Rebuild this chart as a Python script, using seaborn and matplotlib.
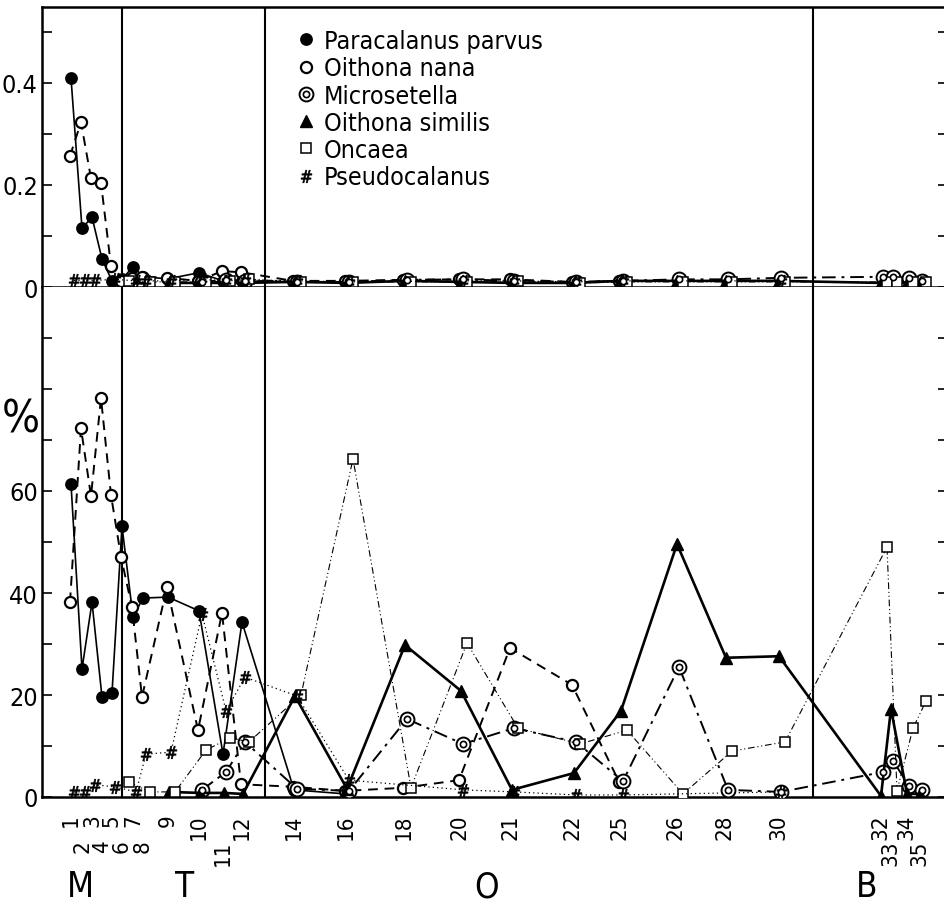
import seaborn as sns
import matplotlib.pyplot as plt
from matplotlib.lines import Line2D
from matplotlib.transforms import ScaledTranslation, blended_transform_factory

sns.set_style('white')
plt.rcParams['font.family'] = ['DejaVu Sans']
plt.rcParams['font.stretch'] = 'condensed'
plt.rcParams['text.color'] = 'black'
plt.rcParams['xtick.color'] = 'black'
plt.rcParams['ytick.color'] = 'black'

#% ===============================
# stations along the transect (position in relative distance units)
stations = [1, 2, 3, 4, 5, 6, 7, 8, 9, 10, 11, 12, 14, 16, 18, 20, 21, 22, 25, 26, 28, 30, 32, 33, 34, 35]
station_pos = [29, 40, 50, 60, 70, 80, 91, 101, 126, 157, 181, 200, 252, 304, 362, 418, 469, 531,
               578, 634, 683, 736, 838, 848, 864, 877]
second_row = [2, 4, 6, 8, 11, 33, 35]
region_names = ['M', 'T', 'O', 'B']
region_pos = [38, 143, 445, 825]
region_bounds = [80, 223, 771]

# lower panel: share of total copepods, %
para_st = [1, 2, 3, 4, 5, 6, 7, 8, 9, 10, 11, 12, 14, 16]
para_pct = [61.4, 25.1, 38.2, 19.6, 20.4, 53.1, 35.3, 39.0, 39.2, 36.5, 8.4, 34.3, 1.4, 0.6]
nana_st = [1, 2, 3, 4, 5, 6, 7, 8, 9, 10, 11, 12, 14, 16, 18, 20, 21, 22, 25]
nana_pct = [38.2, 72.3, 59.0, 78.2, 59.2, 47.1, 37.2, 19.6, 41.2, 13.1, 36.1, 2.5, 2.0, 1.2, 1.8,
            3.3, 29.2, 22.0, 3.0]
micro_st = [10, 11, 12, 14, 16, 18, 20, 21, 22, 25, 26, 28, 30, 32, 33, 34, 35]
micro_pct = [1.4, 4.9, 10.8, 1.6, 1.2, 15.3, 10.4, 13.5, 10.8, 3.1, 25.5, 1.4, 1.0, 4.9, 7.1, 2.2, 1.4]
sim_st = [9, 10, 11, 12, 14, 16, 18, 20, 21, 22, 25, 26, 28, 30, 32, 33, 34, 35]
sim_pct = [1.0, 0.8, 0.8, 0.6, 19.8, 1.6, 29.8, 20.8, 1.4, 4.7, 16.9, 49.6, 27.3, 27.6, 0.2, 17.3, 0.6, 0.6]
onc_st = [6, 8, 9, 10, 11, 12, 14, 16, 18, 20, 21, 22, 25, 26, 28, 30, 32, 33, 34, 35]
onc_pct = [2.9, 1.0, 1.0, 9.2, 11.6, 10.8, 20.0, 66.3, 1.8, 30.2, 13.5, 10.4, 13.1, 0.6, 9.0, 10.8,
           49.0, 1.2, 13.5, 18.8]
pse_st = [1, 2, 3, 5, 7, 8, 9, 10, 11, 12, 14, 16, 20, 21, 22, 25, 30]
pse_pct = [1.0, 1.0, 2.4, 2.0, 1.0, 8.4, 8.8, 35.9, 16.9, 23.5, 19.8, 3.3, 1.4, 1.0, 0.4, 0.4, 1.0]

# upper panel: abundance
para_top_st = [1, 2, 3, 4, 5, 6, 7, 8, 9, 10, 11, 12, 14, 16]
para_top = [0.41, 0.115, 0.137, 0.055, 0.012, 0.015, 0.04, 0.02, 0.016, 0.028, 0.012, 0.012, 0.01, 0.01]
nana_top_st = [1, 2, 3, 4, 5, 6, 7, 8, 9, 10, 11, 12, 14, 16, 18, 20, 21, 22, 25]
nana_top = [0.257, 0.323, 0.213, 0.204, 0.041, 0.012, 0.018, 0.02, 0.018, 0.012, 0.031, 0.029, 0.012,
            0.012, 0.014, 0.015, 0.015, 0.01, 0.012]
micro_top_st = [10, 11, 12, 14, 16, 18, 20, 21, 22, 25, 26, 28, 30, 32, 33, 34, 35]
micro_top = [0.01, 0.014, 0.012, 0.01, 0.01, 0.014, 0.015, 0.012, 0.01, 0.012, 0.015, 0.015, 0.018,
             0.02, 0.02, 0.018, 0.012]
sim_top_st = [9, 10, 11, 12, 14, 16, 18, 20, 21, 22, 25, 26, 28, 30, 32, 33, 34, 35]
sim_top = [0.008, 0.008, 0.008, 0.008, 0.01, 0.008, 0.012, 0.01, 0.008, 0.008, 0.012, 0.012, 0.012,
           0.012, 0.008, 0.01, 0.008, 0.008]
onc_top_st = [6, 8, 9, 10, 11, 12, 14, 16, 18, 20, 21, 22, 25, 26, 28, 30, 32, 33, 34, 35]
onc_top = [0.012, 0.01, 0.01, 0.01, 0.012, 0.015, 0.01, 0.01, 0.01, 0.01, 0.012, 0.008, 0.01, 0.01,
           0.01, 0.01, 0.01, 0.01, 0.01, 0.01]
pse_top_st = [1, 2, 3, 5, 7, 8, 9, 10, 11, 12, 14, 16, 20, 21, 22, 25, 30]
pse_top = [0.013, 0.013, 0.013, 0.015, 0.012, 0.012, 0.012, 0.015, 0.012, 0.014, 0.012, 0.01, 0.012,
           0.012, 0.01, 0.012, 0.012]

names = ['Paracalanus parvus', 'Oithona nana', 'Microsetella', 'Oithona similis', 'Oncaea',
         'Pseudocalanus']

#% ===============================
pos = dict(zip(stations, station_pos))
W, H = 945, 903

styles = {
    'Paracalanus parvus': dict(dodge=0, linestyle='-', lw=1.2, marker='o', ms=8, mfc='black', mew=1.2),
    'Oithona nana': dict(dodge=-1, linestyle=(0, (5, 3.5)), lw=1.4, marker='o', ms=8, mfc='white', mew=1.6),
    'Microsetella': dict(dodge=3, linestyle=(0, (7, 3, 1.5, 3)), lw=1.4, marker='o', ms=10, mfc='white', mew=1.4),
    'Oithona similis': dict(dodge=1, linestyle='-', lw=1.9, marker='^', ms=8.5, mfc='black', mew=1),
    'Oncaea': dict(dodge=7, linestyle=(0, (6, 2.5, 1, 2.5, 1, 2.5)), lw=0.8, marker='s', ms=6.5, mfc='white', mew=1.1),
    'Pseudocalanus': dict(dodge=3, linestyle=(0, (1, 2.5)), lw=0.9, marker='$\\#$', ms=9, mfc='black', mew=0.5),
}


def draw(ax, name, st, vals):
    s = styles[name]
    xs = [pos[k] + s['dodge'] for k in st]
    sns.lineplot(x=xs, y=vals, ax=ax, sort=False, estimator=None, errorbar=None, color='black',
                 linestyle=s['linestyle'], lw=s['lw'], marker=s['marker'], markersize=s['ms'],
                 markerfacecolor=s['mfc'], markeredgecolor='black', markeredgewidth=s['mew'], zorder=3)
    if name == 'Microsetella':
        sns.lineplot(x=xs, y=vals, ax=ax, sort=False, estimator=None, errorbar=None, color='black',
                     linestyle='none', marker='o', markersize=4.5, markerfacecolor='white',
                     markeredgecolor='black', markeredgewidth=1.2, zorder=4)


fig = plt.figure(figsize=(W / 100, H / 100), dpi=100)
ax_top = fig.add_axes([42 / W, (H - 288) / H, 906 / W, 280 / H])
ax_bot = fig.add_axes([42 / W, (H - 798) / H, 906 / W, 510 / H])

top_data = [(para_top_st, para_top), (nana_top_st, nana_top), (micro_top_st, micro_top),
            (sim_top_st, sim_top), (onc_top_st, onc_top), (pse_top_st, pse_top)]
bot_data = [(para_st, para_pct), (nana_st, nana_pct), (micro_st, micro_pct),
            (sim_st, sim_pct), (onc_st, onc_pct), (pse_st, pse_pct)]
for name, (st, v) in zip(names, top_data):
    draw(ax_top, name, st, v)
for name, (st, v) in zip(names, bot_data):
    draw(ax_bot, name, st, v)

for ax in (ax_top, ax_bot):
    ax.set_xlim(0, 906)
    ax.set_xlabel('')
    ax.set_ylabel('')
    ax.spines['right'].set_visible(False)
    for b in region_bounds:
        ax.axvline(b, color='black', lw=1.5, zorder=2)
    ax.tick_params(axis='y', which='both', direction='in', length=7, width=1.2, left=True, right=True,
                   labelsize=18, pad=3)
    for sp in ('left', 'top', 'bottom'):
        ax.spines[sp].set_linewidth(1.8)
        ax.spines[sp].set_color('black')

ax_top.set_ylim(0, 0.549)
ax_top.set_yticks([0, 0.1, 0.2, 0.3, 0.4, 0.5], ['0', '', '0.2', '', '0.4', ''])
ax_top.set_xticks([])

ax_bot.set_ylim(0, 100)
ax_bot.spines['top'].set_visible(False)
ax_bot.set_yticks([0, 10, 20, 30, 40, 50, 60, 70, 80, 90], ['0', '', '20', '', '40', '', '60', '', '', ''])
ax_bot.set_xticks(station_pos, [str(s) for s in stations], rotation=90)
ax_bot.tick_params(axis='x', direction='out', length=8, width=1.3, labelsize=16, pad=4)
shift = ScaledTranslation(0, -26 / 100, fig.dpi_scale_trans)
for lbl, s in zip(ax_bot.get_xticklabels(), stations):
    lbl.set_verticalalignment('top')
    if s in second_row:
        lbl.set_transform(lbl.get_transform() + shift)

tr = blended_transform_factory(ax_bot.transData, ax_bot.transAxes)
for name, x in zip(region_names, region_pos):
    ax_bot.text(x, -0.175, name, transform=tr, ha='center', va='center', fontsize=25)

fig.text(21 / W, 1 - 420 / H, '%', ha='center', va='center', fontsize=32)

handles = []
for name in names:
    s = styles[name]
    h = Line2D([], [], linestyle='none', marker=s['marker'], markersize=s['ms'], color='black',
               markerfacecolor=s['mfc'], markeredgecolor='black', markeredgewidth=s['mew'])
    if name == 'Microsetella':
        inner = Line2D([], [], linestyle='none', marker='o', markersize=4.5, markerfacecolor='white',
                       markeredgecolor='black', markeredgewidth=1.2)
        h = (h, inner)
    handles.append(h)
fig.legend(handles, names, loc='upper left', bbox_to_anchor=(294 / W, 1 - 30 / H), frameon=False,
           fontsize=18, handlelength=1.0, handletextpad=0.2, labelspacing=0.13, borderpad=0,
           borderaxespad=0)

plt.savefig('out.png', dpi=100)
